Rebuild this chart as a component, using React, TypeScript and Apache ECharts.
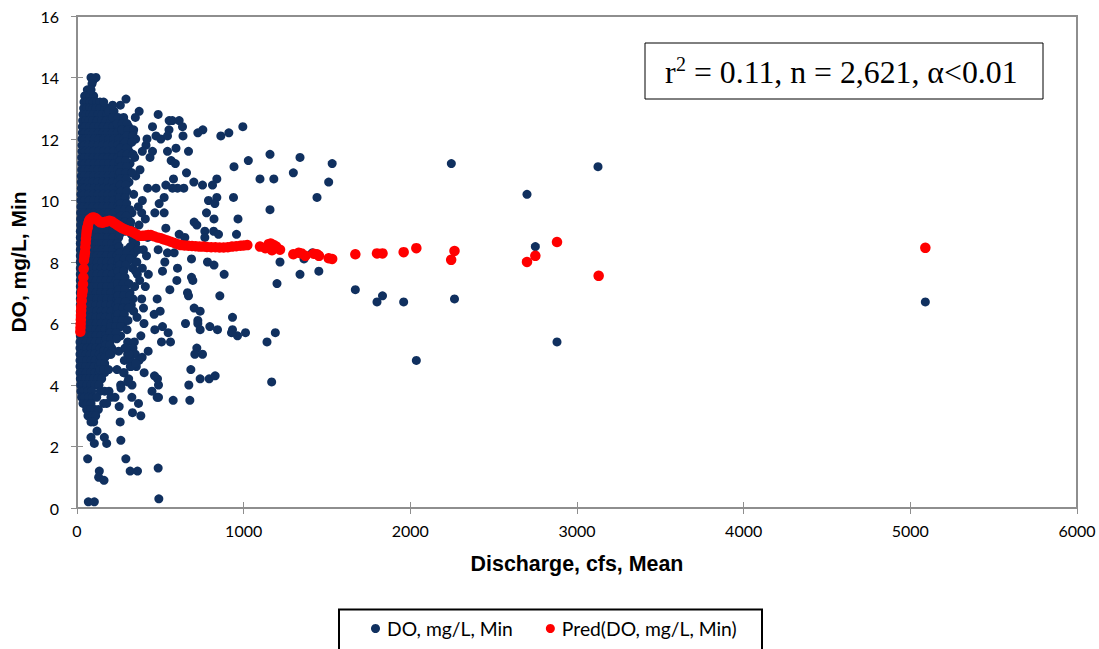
import React, { useEffect, useRef } from "react";
import * as echarts from "echarts";

const xTicks = { min: 0, max: 6000, interval: 1000 };
const yTicks = { min: 0, max: 16, interval: 2 };
const doName = "DO, mg/L, Min";
const predName = "Pred(DO, mg/L, Min)";
const xTitle = "Discharge, cfs, Mean";
const yTitle = "DO, mg/L, Min";

// dense cloud: each row is [DO value, discharge values read along that level]
const cloudRows: [number, number[]][] = [
  [13.6, [62, 82]],
  [13.4, [46, 62, 80, 100]],
  [13.2, [42, 60, 78, 98, 118, 138]],
  [13.0, [40, 58, 76, 96, 114, 138, 166, 186]],
  [12.8, [36, 54, 76, 98, 126, 150, 178, 206]],
  [12.6, [34, 52, 72, 94, 122, 148, 176, 204, 232, 262]],
  [12.4, [32, 50, 76, 102, 130, 158, 188, 216, 246, 274, 310]],
  [12.2, [32, 48, 70, 98, 128, 156, 182, 212, 242, 270, 300, 336]],
  [12.0, [30, 48, 74, 104, 132, 160, 190, 220, 250, 282, 316, 352]],
  [11.8, [30, 46, 68, 96, 126, 154, 184, 214, 244, 276, 308, 414]],
  [11.6, [30, 48, 72, 100, 130, 160, 188, 218, 250, 280, 312, 392]],
  [11.4, [28, 46, 70, 98, 128, 156, 186, 216, 246, 278, 346, 438]],
  [11.2, [28, 48, 74, 102, 132, 160, 190, 222, 252, 284, 318]],
  [11.0, [28, 46, 70, 98, 126, 156, 184, 214, 244, 276, 306, 378]],
  [10.8, [26, 44, 72, 100, 130, 158, 188, 218, 250, 282, 352]],
  [10.6, [26, 44, 68, 96, 126, 154, 184, 214, 246, 278, 312]],
  [10.4, [26, 46, 74, 102, 132, 160, 190, 220, 252, 286, 424]],
  [10.2, [24, 42, 70, 98, 126, 156, 186, 216, 248, 280, 340]],
  [10.0, [24, 44, 72, 100, 130, 158, 188, 218, 250, 284, 392]],
  [9.8, [24, 40, 68, 96, 126, 154, 184, 214, 246, 292, 368]],
  [9.6, [22, 44, 72, 100, 130, 160, 188, 220, 254, 330, 388]],
  [9.4, [22, 40, 68, 96, 124, 152, 182, 212, 248, 306, 410]],
  [9.2, [22, 42, 70, 98, 128, 156, 186, 218, 262, 318, 372]],
  [9.0, [20, 38, 66, 94, 122, 152, 182, 214, 246, 286, 338]],
  [8.8, [20, 40, 68, 96, 126, 154, 184, 216, 250, 340, 424]],
  [8.6, [20, 36, 64, 92, 120, 148, 178, 208, 242, 352]],
  [8.4, [20, 40, 66, 94, 124, 152, 182, 214, 248, 300, 398]],
  [8.2, [20, 36, 64, 90, 118, 146, 176, 208, 240, 286, 332]],
  [8.0, [20, 38, 66, 94, 122, 150, 180, 212, 246, 300, 350]],
  [7.8, [20, 34, 62, 90, 118, 146, 176, 206, 240, 284, 334, 392]],
  [7.6, [20, 38, 66, 92, 120, 150, 180, 212, 252, 362, 428]],
  [7.4, [20, 34, 60, 88, 116, 144, 174, 204, 236, 272, 376]],
  [7.2, [20, 36, 64, 92, 120, 148, 178, 210, 244, 288, 346, 410]],
  [7.0, [20, 32, 60, 88, 116, 144, 174, 204, 238, 276, 318]],
  [6.8, [20, 36, 62, 90, 118, 148, 178, 208, 242, 284, 336, 388]],
  [6.6, [20, 32, 60, 86, 114, 142, 172, 202, 236, 270, 326]],
  [6.4, [20, 34, 62, 90, 118, 146, 176, 206, 238, 278, 340]],
  [6.2, [20, 32, 58, 86, 114, 142, 170, 200, 232, 264, 360]],
  [6.0, [20, 36, 62, 88, 116, 144, 174, 204, 236, 276, 402]],
  [5.8, [20, 30, 56, 84, 112, 140, 168, 198, 228]],
  [5.6, [20, 34, 60, 88, 114, 142, 172, 206, 262]],
  [5.4, [18, 30, 56, 82, 110, 138, 166, 196, 304, 344]],
  [5.2, [18, 34, 60, 86, 112, 140, 168, 208, 288, 336]],
  [5.0, [18, 28, 54, 80, 106, 134, 162, 204, 304, 350]],
  [4.8, [18, 32, 58, 84, 110, 138, 284, 322, 372]],
  [4.6, [18, 28, 52, 78, 104, 130, 156, 320, 356]],
  [4.4, [18, 30, 56, 82, 108, 134, 166, 282]],
  [4.2, [20, 32, 52, 76, 100, 124, 148, 310]],
  [4.0, [22, 34, 58, 82, 106, 132, 262, 330]],
  [3.8, [24, 40, 64, 88, 140, 166, 192]],
  [3.6, [28, 46, 70, 94, 118, 204, 228]],
  [3.4, [36, 60, 84, 160, 178]],
  [3.2, [58, 82, 108, 128]],
  [3.0, [66, 92, 112]],
  [2.8, [84, 100]],
];

// second pass of the cloud's right half, on the levels between the rows above
const cloudFillRows: [number, number[]][] = [
  [12.9, [190, 222]],
  [12.7, [214, 246, 280]],
  [12.5, [240, 272, 300]],
  [12.3, [270, 305, 340]],
  [12.1, [300, 335]],
  [11.9, [290, 330]],
  [11.7, [262, 296]],
  [11.5, [270, 300, 336]],
  [11.3, [258, 292]],
  [11.1, [266, 298]],
  [10.9, [258, 292, 330]],
  [10.7, [264, 296]],
  [10.5, [260, 294]],
  [10.3, [264, 298]],
  [10.1, [256, 290]],
  [9.9, [262, 298]],
  [9.7, [254, 286, 318]],
  [9.5, [262, 296]],
  [9.3, [256, 288, 322]],
  [9.1, [262, 296]],
  [8.9, [256, 326]],
  [8.7, [336]],
  [8.5, [252, 320]],
  [8.3, [258, 298, 344]],
  [8.1, [250, 284, 318]],
  [7.9, [256, 292]],
  [7.7, [246, 280, 352]],
  [7.5, [252, 288]],
  [7.3, [244, 278, 312]],
  [7.1, [250, 286]],
  [6.9, [246, 280, 316]],
  [6.7, [250, 290]],
  [6.5, [244, 276, 308]],
  [6.3, [246, 284]],
  [6.1, [240, 272, 306]],
  [5.9, [202, 232, 262]],
  [5.7, [200, 236]],
  [5.5, [176, 204, 238]],
  [5.3, [172, 198]],
  [5.1, [160, 186, 250]],
  [4.9, [146, 168]],
  [4.7, [142, 166]],
  [4.5, [138, 160, 190]],
];

// individually readable points: [discharge, DO]
const doOutliers: [number, number][] = [
  [84, 14.0], [114, 14.0], [96, 13.9], [90, 13.8], [84, 13.6], [294, 13.3], [260, 13.1], [214, 13.1], [160, 13.2], [373, 12.9],
  [350, 12.7], [487, 12.8], [553, 12.6], [572, 12.6], [613, 12.6], [633, 12.4], [995, 12.4], [755, 12.3],
  [725, 12.2], [911, 12.2], [863, 12.1], [636, 12.1], [552, 12.3], [453, 12.4], [474, 12.1], [503, 12.0],
  [543, 12.1], [420, 12.0], [594, 11.7], [669, 11.6], [453, 11.6], [543, 11.6], [565, 11.3], [590, 11.2],
  [1158, 11.5], [1028, 11.3], [1338, 11.4], [1531, 11.2], [942, 11.1], [1298, 10.9], [1510, 10.6], [1098, 10.7],
  [1181, 10.7], [1440, 10.1], [1158, 9.7], [939, 10.1], [839, 10.7], [813, 10.5], [753, 10.5], [701, 10.6],
  [657, 10.9], [579, 10.7], [641, 10.4], [603, 10.4], [573, 10.4], [533, 10.5], [474, 10.4], [839, 10.1],
  [789, 10.0], [827, 9.9], [523, 10.1], [493, 9.9], [467, 9.6], [523, 9.6], [777, 9.6], [822, 9.4],
  [966, 9.4], [703, 9.3], [719, 9.2], [533, 9.1], [767, 9.0], [767, 8.8], [820, 9.0], [849, 8.9],
  [957, 8.9], [613, 8.9], [647, 8.8], [1412, 8.3], [1362, 8.1], [1218, 8.0], [783, 8.0], [822, 7.9],
  [687, 8.1], [527, 8.0], [359, 8.0], [417, 8.2], [487, 8.4], [543, 8.3], [583, 8.3], [366, 8.4],
  [513, 7.7], [603, 7.8], [599, 7.4], [687, 7.5], [695, 7.4], [883, 7.6], [1338, 7.6], [1451, 7.7],
  [1200, 7.3], [1670, 7.1], [557, 7.1], [663, 7.0], [857, 6.9], [669, 6.9], [481, 6.8], [703, 6.5],
  [739, 6.4], [933, 6.2], [651, 6.0], [725, 6.1], [725, 6.0], [739, 5.8], [797, 5.9], [843, 5.8],
  [933, 5.8], [927, 5.7], [963, 5.6], [1011, 5.7], [1190, 5.7], [1140, 5.4], [1168, 4.1], [507, 5.4],
  [561, 5.4], [547, 5.7], [513, 5.9], [467, 5.8], [499, 6.4], [463, 6.3], [399, 6.5], [427, 5.1],
  [391, 4.9], [719, 5.2], [707, 5.0], [753, 5.0], [683, 4.5], [739, 4.2], [793, 4.2], [829, 4.3],
  [671, 4.0], [677, 3.5], [577, 3.5], [489, 3.6], [481, 3.6], [450, 3.8], [489, 4.0], [483, 4.2],
  [465, 4.3], [403, 4.4], [369, 3.4], [329, 3.6], [333, 3.1], [383, 3.0], [253, 3.3], [259, 2.8],
  [263, 2.2], [120, 2.5], [84, 2.3], [104, 2.1], [164, 2.3], [178, 2.1], [64, 1.6], [293, 1.6],
  [134, 1.2], [130, 1.0], [162, 0.9], [319, 1.2], [363, 1.2], [487, 1.3], [491, 0.3], [68, 0.2],
  [104, 0.2], [280, 4.4], [304, 4.1], [264, 3.9], [240, 4.5], [208, 5.1], [196, 5.0], [323, 4.6],
  [353, 4.7], [313, 5.0], [293, 5.2], [383, 5.6], [300, 5.8],
  [2246, 11.2], [2700, 10.2], [3126, 11.1], [2750, 8.5], [5090, 6.7], [2265, 6.8], [2036, 4.8], [2880, 5.4],
  [1960, 6.7], [1833, 6.9], [1800, 6.7],
];

const predX = [
  20, 21, 22, 23, 24, 25, 26, 28, 30, 32, 34, 36, 38, 40, 42, 44, 46, 48, 50, 52, 54, 56, 58, 60, 62, 64, 68, 72, 76, 82,
  88, 96, 104, 112, 120, 130, 140, 154, 166, 180, 194, 208, 222, 236, 250, 264, 278, 292, 308, 323, 340, 356, 373, 392,
  410, 428, 443, 460, 482, 503, 522, 542, 563, 584, 604, 623, 645, 668, 690, 712, 735, 758, 780, 805, 830, 855, 880,
  905, 930, 955, 980, 1000, 1022, 1098, 1130, 1150, 1162, 1170, 1180, 1195, 1218, 1298, 1330, 1346, 1370, 1420, 1440,
  1452, 1510, 1531, 1670, 1800, 1833, 1960, 2036, 2245, 2265, 2700, 2750, 2880, 3130, 5090,
];
const predY = [
  5.73, 5.86, 5.98, 6.12, 6.27, 6.42, 6.55, 6.74, 6.92, 7.02, 7.09, 7.28, 7.5, 7.78, 8.05, 8.17, 8.25, 8.32, 8.48, 8.62,
  8.76, 8.88, 8.98, 9.05, 9.1, 9.15, 9.25, 9.32, 9.37, 9.4, 9.43, 9.45, 9.44, 9.42, 9.38, 9.33, 9.29, 9.28, 9.3, 9.32,
  9.34, 9.32, 9.27, 9.22, 9.17, 9.12, 9.08, 9.05, 9.02, 9.0, 8.95, 8.9, 8.85, 8.85, 8.86, 8.88, 8.88, 8.84, 8.8, 8.77,
  8.73, 8.7, 8.66, 8.62, 8.58, 8.55, 8.54, 8.53, 8.52, 8.51, 8.5, 8.5, 8.49, 8.48, 8.48, 8.47, 8.47, 8.48, 8.5, 8.51,
  8.53, 8.54, 8.55, 8.5, 8.45, 8.58, 8.6, 8.38, 8.55, 8.5, 8.4, 8.25, 8.3, 8.28, 8.2, 8.27, 8.25, 8.2, 8.12, 8.1, 8.25,
  8.28, 8.28, 8.32, 8.45, 8.07, 8.36, 8.0, 8.2, 8.65, 7.55, 8.46,
];

const doPoints: number[][] = [
  ...cloudRows.flatMap(([y, xs]) => xs.map((x) => [x, y])),
  ...cloudFillRows.flatMap(([y, xs]) => xs.map((x) => [x, y])),
  ...doOutliers,
];
const predPoints = predX.map((x, i) => [x, predY[i]]);

const axisColor = "#8e8e8e";
const labelFont = "Lato, Carlito, sans-serif";
const titleFont = "'Liberation Sans', Arial, sans-serif";
const serif = "'Liberation Serif', 'Times New Roman', serif";

const plainLabel = (v: number) => String(v);

export default function App() {
  const ref = useRef<HTMLDivElement>(null);
  useEffect(() => {
    const chart = echarts.init(ref.current!, undefined, { renderer: "svg" });
    const innerTicks = {
      type: "value",
      axisLine: { show: false },
      axisLabel: { show: false },
      splitLine: { show: false },
      axisTick: { show: true, length: 6, inside: true, lineStyle: { color: axisColor, width: 1 } },
    };
    chart.setOption({
      animation: false,
      backgroundColor: "#ffffff",
      grid: { left: 76, right: 22, top: 16, bottom: 141, show: true, borderColor: axisColor, borderWidth: 2, backgroundColor: "transparent" },
      xAxis: [
        {
          type: "value", ...xTicks, position: "bottom",
          name: xTitle, nameLocation: "middle", nameGap: 45,
          nameTextStyle: { fontFamily: titleFont, fontWeight: "bold", fontSize: 21.4, color: "#000" },
          axisLine: { show: true, onZero: false, lineStyle: { color: axisColor, width: 2 } },
          axisTick: { show: true, length: 6, inside: false, lineStyle: { color: axisColor, width: 1 } },
          axisLabel: { fontFamily: labelFont, fontSize: 16, color: "#000", margin: 14, formatter: plainLabel },
          splitLine: { show: false },
        },
        { ...innerTicks, ...xTicks, position: "bottom" },
      ],
      yAxis: [
        {
          type: "value", ...yTicks, position: "left",
          name: yTitle, nameLocation: "middle", nameGap: 48, nameRotate: 90,
          nameTextStyle: { fontFamily: titleFont, fontWeight: "bold", fontSize: 21, color: "#000" },
          axisLine: { show: true, onZero: false, lineStyle: { color: axisColor, width: 2 } },
          axisTick: { show: true, length: 6, inside: false, lineStyle: { color: axisColor, width: 1 } },
          axisLabel: { fontFamily: labelFont, fontSize: 16, color: "#000", margin: 18, formatter: plainLabel },
          splitLine: { show: false },
        },
        { ...innerTicks, ...yTicks, position: "left" },
      ],
      legend: {
        left: 366, top: 614, itemWidth: 9, itemHeight: 9, itemGap: 33, icon: "circle",
        data: [doName, predName],
        textStyle: { fontFamily: labelFont, fontSize: 19.3, color: "#000", padding: [0, 0, 0, 2] },
      },
      series: [
        { name: doName, type: "scatter", symbol: "circle", symbolSize: 9, data: doPoints, itemStyle: { color: "#10305F", opacity: 1 }, silent: true },
        { name: predName, type: "scatter", symbol: "circle", symbolSize: 10.5, data: predPoints, itemStyle: { color: "#FF0000", opacity: 1 }, silent: true },
      ],
      graphic: [
        { type: "rect", shape: { x: 339, y: 609.5, width: 423, height: 60 }, style: { fill: "none", stroke: "#000", lineWidth: 2 }, silent: true },
        { type: "rect", shape: { x: 645, y: 43, width: 398, height: 56 }, style: { fill: "#fff", stroke: "#000", lineWidth: 1 }, z: 10, silent: true },
        { type: "text", x: 665, y: 56, z: 11, silent: true, style: { text: "r", font: `32px ${serif}`, fill: "#000" } },
        { type: "text", x: 676, y: 54, z: 11, silent: true, style: { text: "2", font: `20px ${serif}`, fill: "#000" } },
        { type: "text", x: 686, y: 56, z: 11, silent: true, style: { text: " = 0.11, n = 2,621, α<0.01", font: `31.8px ${serif}`, fill: "#000" } },
      ],
    });
    return () => chart.dispose();
  }, []);
  return <div ref={ref} style={{ position: "fixed", left: 0, top: 0, width: 1099, height: 649 }} />;
}
